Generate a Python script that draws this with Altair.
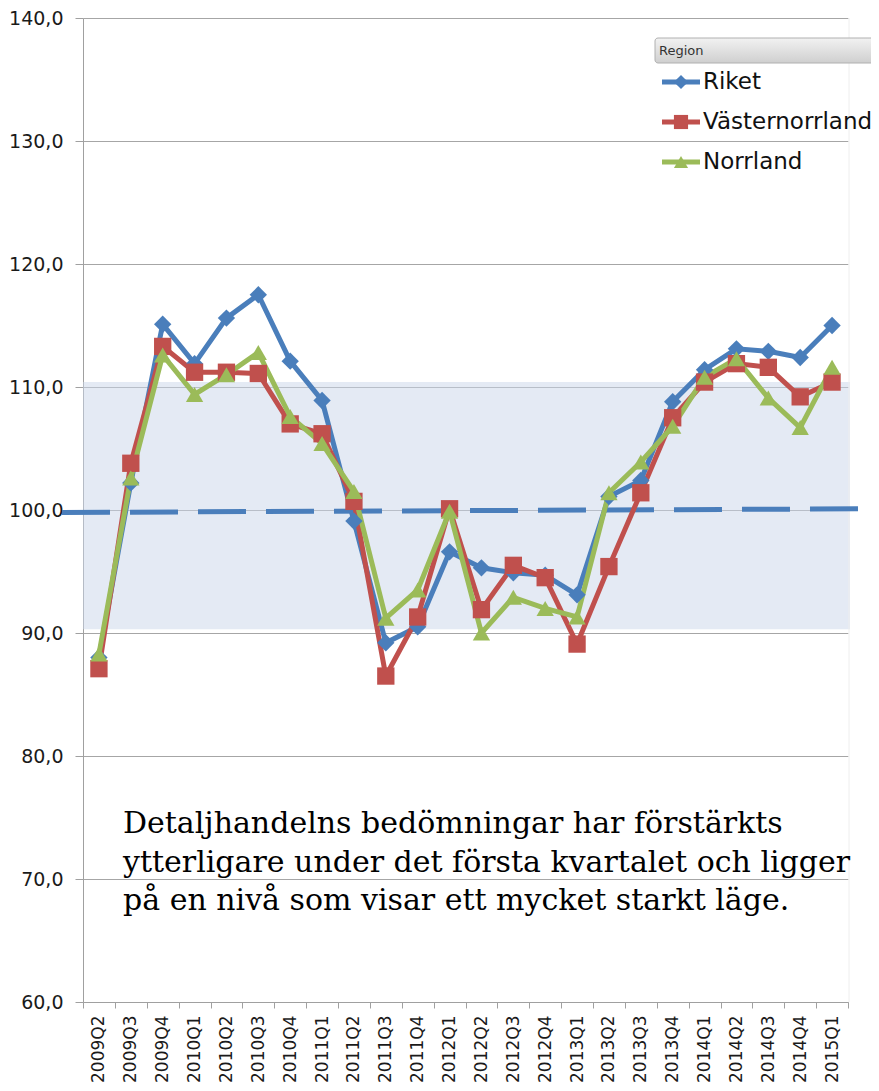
import altair as alt
import pandas as pd

quarters = ["2009Q2", "2009Q3", "2009Q4", "2010Q1", "2010Q2", "2010Q3", "2010Q4",
            "2011Q1", "2011Q2", "2011Q3", "2011Q4", "2012Q1", "2012Q2", "2012Q3",
            "2012Q4", "2013Q1", "2013Q2", "2013Q3", "2013Q4", "2014Q1", "2014Q2",
            "2014Q3", "2014Q4", "2015Q1"]
series = ["Riket", "Västernorrland", "Norrland"]
riket = [88.0, 102.2, 115.1, 111.9, 115.6, 117.5, 112.1, 108.9, 99.1, 89.2, 90.5, 96.6,
         95.3, 94.9, 94.7, 93.1, 101.1, 102.4, 108.8, 111.4, 113.1, 112.9, 112.4, 115.0]
vasternorrland = [87.1, 103.8, 113.3, 111.2, 111.2, 111.1, 107.0, 106.2, 100.7, 86.5, 91.3, 100.1,
                  91.9, 95.5, 94.5, 89.1, 95.4, 101.4, 107.5, 110.4, 111.9, 111.6, 109.2, 110.4]
norrland = [88.3, 102.6, 112.6, 109.4, 111.0, 112.8, 107.6, 105.4, 101.5, 91.2, 93.5, 99.9,
            90.0, 92.9, 92.0, 91.3, 101.4, 103.9, 106.8, 110.8, 112.3, 109.1, 106.7, 111.6]
colors = ["#4a7ebb", "#c0504d", "#9bbb59"]
shapes = ["diamond", "square", "triangle-up"]
band_low, band_high = 90.3, 110.4
ref_start, ref_end = 99.8, 100.1
y_ticks = [60, 70, 80, 90, 100, 110, 120, 130, 140]
note = ("Detaljhandelns bedömningar har förstärkts\n"
        "ytterligare under det första kvartalet och ligger\n"
        "på en nivå som visar ett mycket starkt läge.")

W, H = 765, 984

rows = []
for name, vals in zip(series, [riket, vasternorrland, norrland]):
    for q, v in zip(quarters, vals):
        rows.append({"Kvartal": q, "Region": name, "Värde": v})
df = pd.DataFrame(rows)

yscale = alt.Scale(domain=[60, 140], nice=False, zero=False)
yaxis = alt.Axis(values=y_ticks, title=None,
                 labelExpr="replace(format(datum.value, '.1f'), '.', ',')",
                 labelFont="DejaVu Sans", labelFontSize=19,
                 labelColor="#1a1a1a", labelPadding=12,
                 tickSize=8, tickColor="#a0a0a0", domainColor="#a0a0a0",
                 gridColor="#a6a6a6", grid=True)
xaxis = alt.Axis(title=None, tickBand="extent", labelAngle=-90, labelAlign="right",
                 labelBaseline="middle",
                 labelFont="DejaVu Sans", labelFontSize=17,
                 labelColor="#1a1a1a", labelPadding=7, tickSize=6, tickColor="#a0a0a0",
                 domainColor="#a0a0a0", grid=False)
xenc = alt.X("Kvartal:N", sort=quarters, axis=xaxis,
             scale=alt.Scale(domain=quarters, paddingInner=0, paddingOuter=0))
cscale = alt.Scale(domain=series, range=colors)
sscale = alt.Scale(domain=series, range=shapes)

band = alt.Chart(pd.DataFrame({"lo": [band_low], "hi": [band_high]})).mark_rect(
    color="#c9d5e9", opacity=0.5
).encode(x=alt.value(0), x2=alt.value(W + 2),
         y=alt.Y("lo:Q", scale=yscale, axis=yaxis), y2="hi:Q")

edge = alt.Chart(pd.DataFrame({"e": [0]})).mark_rule(color="#eeeeee", strokeWidth=1).encode(
    x=alt.value(W + 1), y=alt.value(0), y2=alt.value(H))

ref = alt.Chart(pd.DataFrame({"a": [ref_start], "b": [ref_end]})).mark_rule(
    color="#4a7ebb", strokeWidth=5, strokeDash=[48, 20]
).encode(x=alt.value(-21), x2=alt.value(W + 25),
         y=alt.Y("a:Q", scale=yscale, axis=yaxis), y2="b:Q")

lines = alt.Chart(df).mark_line(strokeWidth=5).encode(
    x=xenc, y=alt.Y("Värde:Q", scale=yscale, axis=yaxis),
    color=alt.Color("Region:N", scale=cscale, legend=None),
    order=alt.Order("Kvartal:N"))

points = alt.Chart(df).mark_point(filled=True, opacity=1, size=300).encode(
    x=xenc, y=alt.Y("Värde:Q", scale=yscale, axis=yaxis),
    color=alt.Color("Region:N", scale=cscale, legend=None),
    shape=alt.Shape("Region:N", scale=sscale, legend=None))

text = alt.Chart(pd.DataFrame({"t": [note]})).mark_text(
    font="DejaVu Serif", fontSize=30, align="left", baseline="alphabetic",
    lineBreak="\n", lineHeight=38.5, color="#000000"
).encode(x=alt.value(40), y=alt.value(815), text="t:N")

# legend (drawn manually)
header = alt.Chart(pd.DataFrame({"h": ["Region"]})).mark_rect(
    cornerRadius=3, stroke="#b0b0b0", strokeWidth=1,
    fill=alt.Gradient(gradient="linear", x1=0, y1=0, x2=0, y2=1,
                      stops=[alt.GradientStop(color="#f2f2f2", offset=0),
                             alt.GradientStop(color="#cfcfcf", offset=1)])
).encode(x=alt.value(572), x2=alt.value(800), y=alt.value(20), y2=alt.value(45))
header_t = alt.Chart(pd.DataFrame({"h": ["Region"]})).mark_text(
    font="DejaVu Sans", fontSize=13, color="#333333", align="left", baseline="middle"
).encode(x=alt.value(576), y=alt.value(33), text="h:N")

legend_layers = [header, header_t]
for i, name in enumerate(series):
    ldf = pd.DataFrame({"Region": [name]})
    yy = alt.value(64 + 40 * i)
    legend_layers.append(alt.Chart(ldf).mark_rule(strokeWidth=5).encode(
        x=alt.value(579), x2=alt.value(617), y=yy,
        color=alt.Color("Region:N", scale=cscale, legend=None)))
    legend_layers.append(alt.Chart(ldf).mark_point(filled=True, opacity=1, size=200).encode(
        x=alt.value(598), y=yy,
        color=alt.Color("Region:N", scale=cscale, legend=None),
        shape=alt.Shape("Region:N", scale=sscale, legend=None)))
    legend_layers.append(alt.Chart(ldf).mark_text(
        font="DejaVu Sans", fontSize=23, color="#111111", align="left", baseline="middle"
    ).encode(x=alt.value(620), y=yy, text="Region:N"))

chart = alt.layer(band, edge, ref, lines, points, text, *legend_layers).properties(
    width=W, height=H,
    padding={"left": 75, "top": 10, "right": 23, "bottom": 81},
    autosize=alt.AutoSizeParams(type="none"),
    background="white"
).configure_view(stroke=None)

chart.save("out.html", embed_options={"renderer": "svg", "actions": False})
